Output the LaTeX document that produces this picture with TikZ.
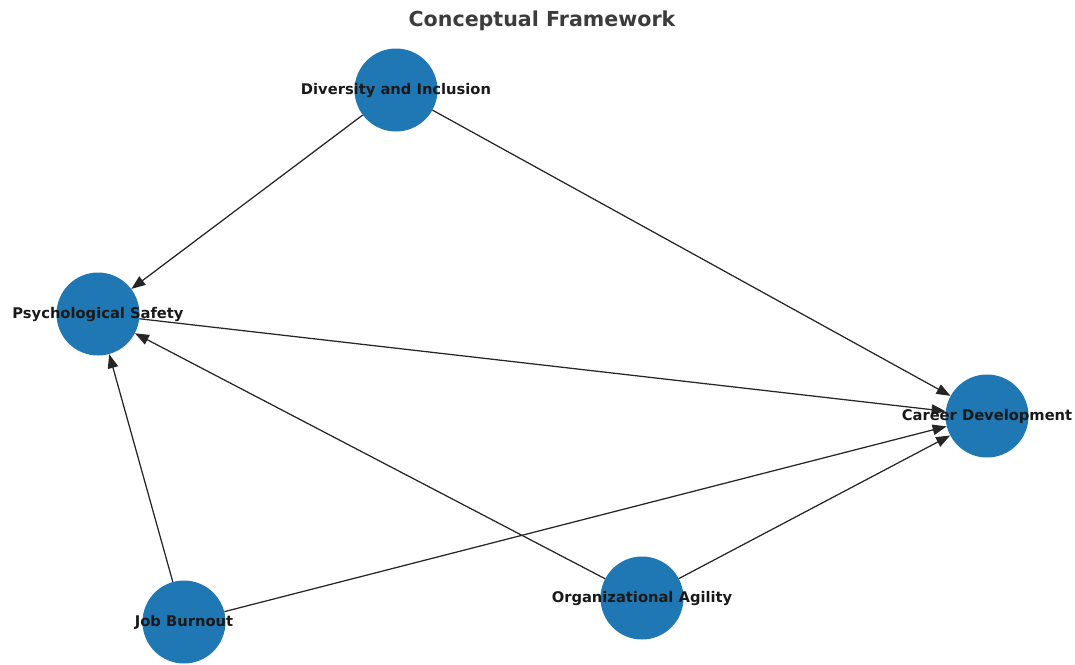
\documentclass[tikz,border=0pt]{standalone}
\usepackage{fontspec}
\setmainfont{DejaVu Sans}
\usetikzlibrary{arrows.meta}
\definecolor{nodeblue}{HTML}{1F77B4}
\definecolor{titlegray}{HTML}{3C3C3C}
\begin{document}
\begin{tikzpicture}[x=1pt,y=-1pt,
  circ/.style={circle,fill=nodeblue,minimum size=83pt,inner sep=0pt},
  lbl/.style={font=\bfseries\fontsize{14.7}{17}\selectfont,text=black!90,inner sep=0pt},
  edge/.style={draw=black!85,line width=1.25pt,-{Triangle[length=14pt,width=10.5pt]}}]
\useasboundingbox (0,0) rectangle (1075,664);
\node[font=\bfseries\fontsize{20.6}{24}\selectfont,text=titlegray] (title) at (542,21) {Conceptual Framework};
\node[circ] (di) at (396,90) {};
\node[circ] (ps) at (98,314) {};
\node[circ] (cd) at (987,416) {};
\node[circ] (jb) at (184,622) {};
\node[circ] (oa) at (642,598) {};
\draw[edge] (di) -- (ps);
\draw[edge] (di) -- (cd);
\draw[edge] (ps) -- (cd);
\draw[edge] (jb) -- (ps);
\draw[edge] (jb) -- (cd);
\draw[edge] (oa) -- (ps);
\draw[edge] (oa) -- (cd);
\node[lbl] (dil) at (di) {Diversity and Inclusion};
\node[lbl] (psl) at (ps) {Psychological Safety};
\node[lbl] (cdl) at (cd) {Career Development};
\node[lbl] (jbl) at (jb) {Job Burnout};
\node[lbl] (oal) at (oa) {Organizational Agility};
\end{tikzpicture}
\end{document}
